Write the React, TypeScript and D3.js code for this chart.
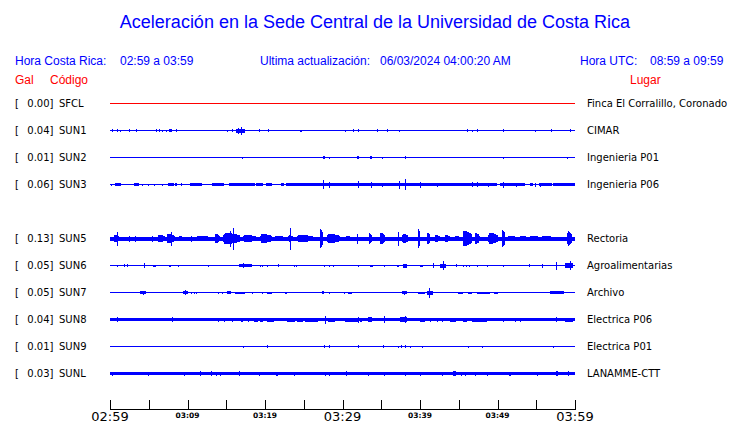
import React from "react";
import * as d3 from "d3";

// ---------- DATA ----------
const title = "Aceleración en la Sede Central de la Universidad de Costa Rica";
const horaCR = "02:59 a 03:59";
const actualizacion = "06/03/2024 04:00:20 AM";
const horaUTC = "08:59 a 09:59";

const codes = ["SFCL", "SUN1", "SUN2", "SUN3", "SUN5", "SUN6", "SUN7", "SUN8", "SUN9", "SUNL"];
const gals = [0.0, 0.04, 0.01, 0.06, 0.13, 0.05, 0.05, 0.04, 0.01, 0.03];
const places = [
  "Finca El Corralillo, Coronado",
  "CIMAR",
  "Ingenieria P01",
  "Ingenieria P06",
  "Rectoria",
  "Agroalimentarias",
  "Archivo",
  "Electrica P06",
  "Electrica P01",
  "LANAMME-CTT",
];
// row slot (one empty slot between SUN3 and SUN5)
const slots = [0, 1, 2, 3, 5, 6, 7, 8, 9, 10];
// background (noise) amplitude, relative units
const baseAmp = [0.5, 0.5, 0.5, 0.5, 2, 0.5, 0.5, 1.7, 0.5, 1.7];

// events: [startMinute, endMinute, amplitude] (minutes after 02:59)
const evSFCL: number[][] = [];
const evSUN1 = [
  [0.3, 0.3, 1.5], [0.9, 0.9, 1.5], [1.3, 1.3, 1], [2.5, 2.5, 1.5], [3.3, 3.3, 1.5],
  [5.9, 5.9, 1.5], [6.3, 6.5, 1.5], [6.7, 6.7, 1], [7.2, 7.2, 1], [7.6, 8.0, 1.5], [8.5, 8.5, 1.5],
  [15.1, 15.1, 1], [15.8, 15.8, 1.5], [16.3, 17.4, 2], [16.5, 16.6, 3], [16.9, 16.9, 4],
  [19.2, 19.2, 1.5], [20.4, 20.4, 1.5], [24.5, 24.5, 1], [24.7, 24.7, 1], [30.3, 30.3, 1],
  [31.4, 31.4, 1.5], [32.0, 32.0, 1.5], [34.5, 34.5, 1.5], [35.7, 35.7, 1.5], [37.3, 37.3, 1],
  [46.0, 46.0, 1.5], [46.7, 46.7, 1], [47.3, 47.3, 1.5], [50.7, 50.7, 1.5], [54.8, 54.8, 1],
  [56.9, 56.9, 1.5], [59.4, 59.4, 1.5],
];
const evSUN2 = [
  [17.0, 17.0, 1], [27.5, 27.7, 1.5], [28.2, 28.2, 1], [31.9, 32.1, 1.5], [33.6, 33.8, 1.5],
  [35.1, 35.1, 1], [38.0, 38.0, 1.5], [50.7, 50.7, 1], [59.0, 59.0, 1],
];
const evSUN3 = [
  [0.6, 1.4, 1.5], [3.1, 3.7, 1.5], [7.5, 8.2, 1.5], [8.4, 8.7, 1.5], [9.2, 9.2, 1.5],
  [10.3, 11.9, 1.5], [13.1, 14.7, 1.5], [15.4, 18.7, 1.5], [18.9, 19.8, 1.5], [20.1, 20.9, 1.5],
  [22.1, 22.5, 1.5], [22.7, 49.9, 1.5], [50.3, 53.5, 1.5], [54.2, 54.6, 1.5], [55.3, 57.0, 1.5],
  [57.2, 60, 1.5],
  [0.1, 0.1, 1], [4.1, 4.1, 1], [4.9, 4.9, 1], [5.7, 5.7, 1], [6.7, 6.7, 1],
  [27.5, 27.6, 4.7], [28.2, 28.2, 3], [32.0, 32.0, 3.7], [33.7, 33.7, 3], [35.1, 35.1, 2],
  [37.3, 37.3, 4], [38.0, 38.0, 5.7], [40.0, 40.1, 3], [42.2, 42.2, 2], [46.7, 46.7, 2.3],
  [47.3, 47.3, 2.3], [48.8, 48.8, 2], [50.7, 50.8, 3], [52.4, 52.4, 2], [54.8, 54.8, 2], [55.5, 55.5, 2],
];
const evSUN5 = [
  [0.5, 1.2, 4], [0.9, 0.9, 7], [2.5, 2.5, 3], [3.2, 3.2, 3], [5.4, 5.4, 3],
  [6.2, 7.1, 4], [7.3, 8.4, 5], [7.9, 7.9, 7], [8.9, 9.3, 3], [10.5, 10.5, 3],
  [11.2, 12.9, 3], [13.5, 14.2, 5], [14.6, 16.8, 6], [15.5, 15.5, 8], [15.9, 15.9, 11],
  [17.2, 18.9, 4], [19.4, 20.9, 5], [21.3, 22.3, 2.5], [23.0, 23.6, 4], [23.2, 23.2, 11],
  [24.1, 26.2, 4], [27.1, 27.5, 10], [28.0, 29.7, 5], [30.5, 31.0, 3], [31.9, 31.9, 5],
  [33.4, 33.8, 6], [34.8, 35.5, 6], [37.2, 37.2, 7], [37.7, 38.5, 5], [39.7, 40.0, 11],
  [40.9, 41.3, 6], [41.9, 42.6, 4], [43.2, 43.9, 4], [44.5, 45.2, 3], [45.5, 46.7, 8],
  [47.1, 47.7, 6], [48.8, 50.1, 6], [50.6, 51.0, 9], [51.4, 52.5, 3], [52.9, 53.8, 3],
  [54.2, 55.5, 3], [55.7, 57.1, 3], [59.0, 59.6, 8],
];
const evSUN6 = [
  [0.9, 0.9, 1], [1.8, 1.8, 1.5], [2.2, 2.2, 1.5], [4.4, 4.4, 2.7], [5.6, 5.9, 1],
  [7.6, 7.9, 1], [8.8, 8.8, 1], [12.6, 12.6, 1], [16.6, 18.3, 1.7], [17.2, 17.2, 2.7],
  [19.4, 19.4, 1], [19.6, 19.6, 1], [20.3, 20.3, 1], [21.7, 21.7, 1.7], [23.8, 23.8, 1],
  [24.0, 24.0, 1], [27.6, 27.6, 1], [28.2, 28.2, 1], [28.8, 28.8, 1], [32.0, 32.0, 1],
  [33.6, 33.9, 1], [35.3, 35.3, 1], [37.0, 37.3, 1], [37.8, 38.3, 2], [40.0, 40.4, 1],
  [41.7, 41.7, 2.7], [42.6, 43.4, 2], [43.0, 43.0, 4.7], [44.7, 44.7, 1.7], [45.5, 45.5, 1],
  [45.9, 45.9, 1], [46.3, 46.5, 1], [47.4, 47.4, 1], [48.7, 48.7, 1], [50.7, 50.7, 1],
  [51.3, 51.3, 0.8], [54.0, 54.0, 1.7], [55.7, 55.7, 2], [57.6, 57.6, 4], [58.7, 59.8, 2.7],
  [59.4, 59.4, 4.7],
];
const evSUN7 = [
  [3.5, 3.5, 0.8], [3.9, 4.6, 1.7], [4.2, 4.2, 2], [9.4, 10.1, 1.7], [9.7, 9.7, 2.3],
  [10.5, 10.5, 1], [10.8, 10.8, 1], [11.1, 11.1, 1], [11.7, 11.7, 0.8], [13.9, 13.9, 1],
  [14.4, 14.4, 1], [15.1, 15.6, 1.7], [16.1, 17.4, 1], [18.3, 18.3, 1], [19.6, 19.8, 1],
  [20.2, 20.9, 1], [22.6, 22.8, 1], [23.4, 23.4, 0.8], [27.4, 27.6, 1.7], [28.3, 28.3, 1],
  [29.0, 29.0, 0.8], [30.2, 30.2, 1], [30.7, 31.2, 1], [32.0, 32.0, 0.8], [32.6, 32.6, 0.8],
  [33.8, 33.8, 0.8], [34.9, 34.9, 0.8], [36.0, 36.0, 0.8], [37.1, 37.1, 0.8], [37.7, 38.3, 1.5],
  [37.9, 37.9, 2], [39.8, 40.6, 1], [40.9, 41.7, 2], [41.2, 41.2, 5], [43.9, 43.9, 0.8],
  [44.9, 45.6, 1], [46.2, 46.7, 1], [47.3, 49.0, 1], [49.5, 50.1, 1], [51.0, 51.0, 0.8],
  [52.0, 52.0, 0.8], [52.3, 52.3, 0.8], [53.3, 53.3, 0.8], [53.9, 53.9, 0.8], [55.5, 55.5, 0.8],
  [56.8, 58.6, 1.3], [59.4, 59.4, 0.8], [59.8, 59.8, 0.8],
];
const evSUN8 = [
  [0.9, 0.9, 2.3], [8.0, 8.0, 2.3], [13.9, 13.9, 2], [14.7, 14.7, 2], [15.8, 15.8, 2],
  [16.9, 17.2, 2], [17.8, 17.8, 2], [18.6, 19.1, 2], [19.4, 19.8, 2], [20.2, 21.1, 2],
  [22.8, 23.9, 2], [24.1, 24.9, 2], [25.2, 26.9, 2], [27.7, 27.7, 4], [28.1, 29.0, 2],
  [30.3, 32.0, 2], [32.0, 32.0, 3], [32.3, 32.5, 2], [33.3, 33.8, 2.3], [35.3, 35.3, 3.3],
  [37.4, 38.3, 2.3], [38.0, 38.0, 3.7], [40.0, 40.6, 2], [41.3, 41.3, 2], [42.2, 42.2, 2],
  [42.8, 42.8, 2], [43.9, 44.7, 2], [45.6, 46.0, 2], [46.7, 48.6, 2], [50.7, 50.7, 2],
  [52.3, 52.3, 2], [52.9, 52.9, 2], [57.6, 57.6, 2.3], [58.7, 59.8, 2],
];
const evSUN9 = [
  [6.2, 6.2, 0.8], [8.0, 8.0, 0.8], [10.6, 10.6, 0.8], [17.1, 17.1, 1], [20.3, 20.3, 1.3],
  [23.4, 23.4, 0.8], [24.8, 24.8, 0.8], [27.6, 27.6, 1.3], [28.3, 28.3, 1.3], [31.3, 31.3, 0.8],
  [32.0, 32.0, 1.3], [33.6, 33.6, 0.8], [35.2, 35.2, 1.3], [37.2, 37.2, 1], [37.5, 37.5, 1.3],
  [38.0, 38.0, 1.3], [38.7, 38.7, 1], [40.3, 40.3, 1], [43.9, 43.9, 0.8], [44.5, 44.5, 0.8],
  [45.4, 45.4, 0.8], [46.2, 46.2, 1], [47.1, 47.1, 0.8], [48.0, 48.0, 1], [51.0, 51.0, 0.8],
  [57.2, 57.2, 1], [57.7, 57.7, 0.8], [58.3, 58.3, 0.8],
];
const evSUNL = [
  [0.3, 0.3, 2], [4.9, 4.9, 2], [9.5, 9.5, 2], [11.6, 11.8, 2.3], [13.0, 13.2, 2.7],
  [13.7, 13.7, 2], [14.2, 14.2, 2], [16.7, 16.7, 2.7], [19.2, 19.2, 2], [21.4, 21.4, 2],
  [21.6, 21.6, 2], [23.8, 23.8, 2], [27.7, 27.7, 2], [28.3, 28.3, 2], [30.4, 30.4, 2.3],
  [33.3, 33.3, 2], [35.3, 35.3, 2], [38.1, 38.1, 2], [40.0, 40.0, 2], [42.9, 42.9, 2],
  [44.3, 44.7, 2.7], [45.3, 45.3, 2], [45.8, 45.8, 2], [47.1, 47.1, 2], [48.7, 48.7, 2],
  [51.5, 51.7, 2], [55.1, 55.1, 2], [57.6, 57.9, 3.3], [59.1, 59.1, 2.3],
];
const events = [evSFCL, evSUN1, evSUN2, evSUN3, evSUN5, evSUN6, evSUN7, evSUN8, evSUN9, evSUNL];
const traceColors = ["#ff0000", "#0000ff", "#0000ff", "#0000ff", "#0000ff", "#0000ff", "#0000ff", "#0000ff", "#0000ff", "#0000ff"];

const majorTicks = [0, 30, 60];
const majorLabels = ["02:59", "03:29", "03:59"];
const minorTicks = [10, 20, 40, 50];
const minorLabels = ["03:09", "03:19", "03:39", "03:49"];

// ---------- CHART ----------
const W = 740;
const H = 423;
const BLUE = "#0000ff";
const RED = "#ff0000";

export default function App() {
  const x = d3.scaleLinear().domain([0, 60]).range([110, 575]);
  const y = d3.scaleLinear().domain([0, 10]).range([103.5, 373.5]);
  const amp = d3.scaleLinear().domain([0, 1]).range([0, 1]);
  const ticks = d3.range(0, 61, 5);
  const axisY = 409.5;

  // wave-packet outline for long, strong bursts
  const packet = (x0: number, x1: number, cy: number, a: number, b: number) => {
    const w = x1 - x0;
    const prof: [number, number][] = [
      [0, Math.max(b, a * 0.5)],
      [0.12, a],
      [0.5, a * 0.85],
      [0.85, a * 0.65],
      [1, Math.max(b, a * 0.45)],
    ];
    const top = prof.map(([f, h]) => [x0 + f * w, cy - h] as [number, number]);
    const bot = prof.slice().reverse().map(([f, h]) => [x0 + f * w, cy + h] as [number, number]);
    return d3.line()([...top, ...bot]) + "Z";
  };

  return (
    <svg
      width={W}
      height={H}
      style={{ position: "absolute", left: 0, top: 0, background: "#fff" }}
      xmlns="http://www.w3.org/2000/svg"
    >
      <rect width={W} height={H} fill="#fff" />
      <text x={375} y={28} textAnchor="middle" fill={BLUE} fontFamily="Liberation Sans, Arial, sans-serif" fontSize={18}>
        {title}
      </text>
      <g fontFamily="Liberation Sans, Arial, sans-serif" fontSize={12} fill={BLUE}>
        <text x={15} y={65}>Hora Costa Rica:</text>
        <text x={120} y={65}>{horaCR}</text>
        <text x={260} y={65}>Ultima actualización:</text>
        <text x={380} y={65}>{actualizacion}</text>
        <text x={580} y={65}>Hora UTC:</text>
        <text x={650} y={65}>{horaUTC}</text>
      </g>
      <g fontFamily="Liberation Sans, Arial, sans-serif" fontSize={12} fill={RED}>
        <text x={15} y={84}>Gal</text>
        <text x={50} y={84}>Código</text>
        <text x={630} y={84}>Lugar</text>
      </g>

      {codes.map((c, i) => {
        const cy = y(slots[i]);
        const b = amp(baseAmp[i]);
        return (
          <g key={c}>
            <g fontFamily="DejaVu Sans, sans-serif" fontSize={10} fill="#000">
              <text x={15} y={cy + 3.5}>[</text>
              <text x={53.5} y={cy + 3.5} textAnchor="end">{gals[i].toFixed(2) + "]"}</text>
              <text x={59} y={cy + 3.5}>{c}</text>
              <text x={587} y={cy + 3.5}>{places[i]}</text>
            </g>
            <g fill={traceColors[i]} shapeRendering="crispEdges">
              <rect x={x(0)} y={cy - b} width={x(60) - x(0)} height={2 * b} />
              {events[i].map((e, k) => {
                const a = amp(e[2]);
                const x0 = x(e[0]);
                const x1 = x(e[1]);
                if (x1 - x0 > 2 && a >= 3) {
                  return <path key={k} d={packet(x0, x1, cy, a, b)} />;
                }
                const w = Math.max(1, x1 - x0);
                return <rect key={k} x={x0} y={cy - a} width={w} height={2 * a} />;
              })}
            </g>
          </g>
        );
      })}

      <g shapeRendering="crispEdges" stroke="#000" strokeWidth={1}>
        <line x1={x(0)} x2={x(60)} y1={axisY} y2={axisY} />
        {ticks.map((t) => (
          <line key={t} x1={Math.round(x(t)) + 0.5} x2={Math.round(x(t)) + 0.5} y1={400} y2={axisY} />
        ))}
      </g>
      <g fontFamily="DejaVu Sans, sans-serif" fill="#000" textAnchor="middle">
        {majorTicks.map((t, i) => (
          <text key={t} x={x(t)} y={421} fontSize={13}>{majorLabels[i]}</text>
        ))}
        {minorTicks.map((t, i) => (
          <text key={t} x={x(t)} y={418} fontSize={7.5} fontWeight="bold">{minorLabels[i]}</text>
        ))}
      </g>
    </svg>
  );
}
